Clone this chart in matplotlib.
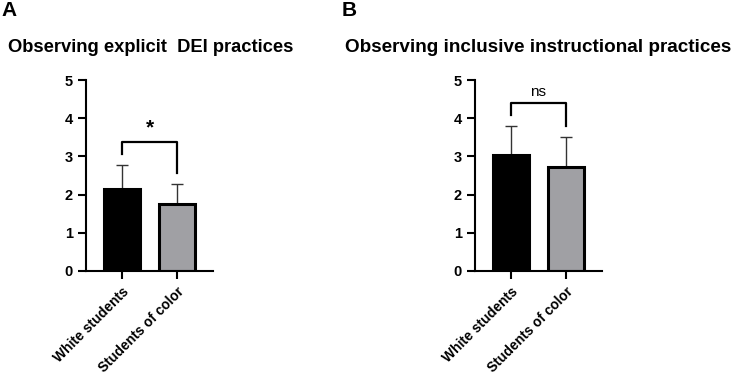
import numpy as np
import matplotlib.pyplot as plt

plt.rcParams['font.family'] = ['Liberation Sans', 'DejaVu Sans']

groups = ["White students", "Students of color"]
bar_colors = ["#000000", "#a0a0a4"]

# panel A: explicit DEI practices
dei_mean = [2.15, 1.76]
dei_err = [0.62, 0.52]

# panel B: inclusive instructional practices
incl_mean = [3.04, 2.71]
incl_err = [0.75, 0.79]

panels = [
    ("A", "Observing explicit  DEI practices", dei_mean, dei_err, "*", [3.06, 3.37, 2.56]),
    ("B", "Observing inclusive instructional practices", incl_mean, incl_err, "ns", [4.08, 4.39, 3.80]),
]

fig = plt.figure(figsize=(7.32, 3.77), dpi=100)
ax_lefts = [86 / 732, 475 / 732]
letter_x = [1 / 732, 342 / 732]
title_x = [151 / 732, 538 / 732]
title_size = [13.2, 13.6]

for i, (letter, title, mean, err, sig, br) in enumerate(panels):
    ax = fig.add_axes([ax_lefts[i], 106 / 377, 127 / 732, 191 / 377])
    x = np.arange(len(groups))
    ax.bar(x, mean, width=0.65, color=bar_colors, edgecolor="black", linewidth=2.2, zorder=2)
    ax.errorbar(x, mean, yerr=[np.zeros(len(err)), err], fmt="none", ecolor="#333333",
                elinewidth=1.0, capsize=4.5, capthick=1.0, zorder=1)
    ax.set_xlim(-0.655, 1.655)
    ax.set_ylim(0, 5)
    ax.set_yticks([0, 1, 2, 3, 4, 5])
    ax.set_xticks(x)
    ax.set_xticklabels(groups, rotation=45, ha="right", rotation_mode="anchor",
                       fontsize=10, fontweight="bold")
    for lab in ax.get_yticklabels():
        lab.set_fontweight("bold")
        lab.set_fontsize(10.5)
    ax.tick_params(axis="both", width=1.5, length=6, color="black")
    ax.tick_params(axis="x", pad=4)
    ax.spines["top"].set_visible(False)
    ax.spines["right"].set_visible(False)
    ax.spines["left"].set_linewidth(1.5)
    ax.spines["bottom"].set_linewidth(1.5)
    ax.spines["bottom"].set_bounds(-0.655, 1.655)
    # significance bracket
    ax.plot([0, 0, 1, 1], [br[0], br[1], br[1], br[2]], color="black", lw=1.6, clip_on=False)
    if sig == "*":
        ax.text(0.5, br[1] + 0.12, sig, ha="center", va="bottom", fontsize=15, fontweight="bold")
    else:
        ax.text(0.5, br[1] + 0.12, sig, ha="center", va="bottom", fontsize=11)
    fig.text(letter_x[i], 1 - 1 / 377, letter, ha="left", va="top", fontsize=15, fontweight="bold")
    fig.text(title_x[i], 1 - 48 / 377, title, ha="center", va="center",
             fontsize=title_size[i], fontweight="bold")

fig.savefig("out.png", dpi=100)
